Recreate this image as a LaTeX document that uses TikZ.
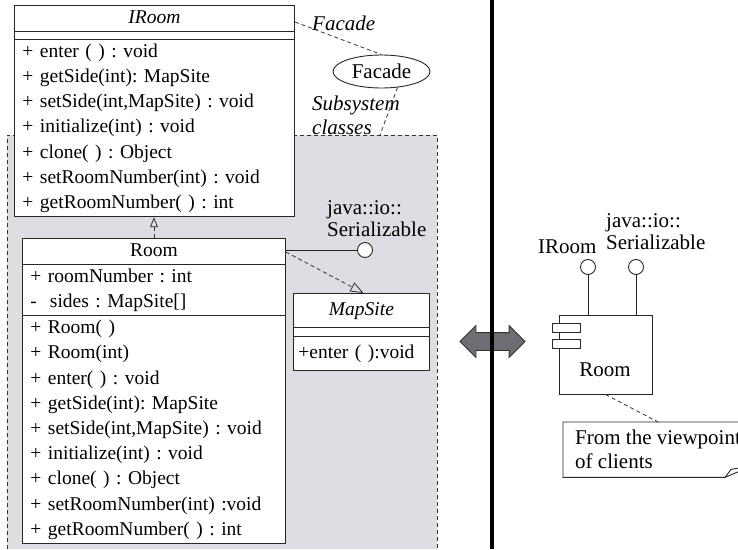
\documentclass[tikz,border=0pt]{standalone}
\usepackage{fontspec}
\setmainfont{Liberation Serif}
\usetikzlibrary{arrows.meta,shapes.multipart,shapes.geometric,shapes.arrows}
\definecolor{subsysgray}{RGB}{221,221,227}
\definecolor{arrowgray}{RGB}{108,110,116}
\newcommand{\linestrut}{\rule[-7.8pt]{0pt}{25.2pt}}
\newcommand{\midtitle}[1]{\hspace*{\fill}#1\hspace*{\fill}}
\frenchspacing

\begin{document}
\begin{tikzpicture}[x=1pt, y=-1pt, font=\fontsize{21}{25.2}\selectfont,
    umlclass/.style = {draw=black!85, line width=0.9pt, fill=white, rectangle split, rectangle split parts=3,
        align=left, inner xsep=8pt, inner ysep=0pt, anchor=north west, font=\fontsize{19.5}{25.2}\selectfont},
    lbl/.style = {inner sep=0pt, align=left, font=\fontsize{21}{22}\selectfont},
    lolli/.style = {draw=black!85, line width=0.9pt, fill=white, circle, inner sep=0pt, minimum size=15pt},
    dashline/.style = {dash pattern=on 4pt off 3pt, line width=0.8pt, draw=black!80},
    realize/.style = {dashline, -{Triangle[open, length=13pt, width=10pt]}}]

  \useasboundingbox (0,0) rectangle (738,549);
  \clip (0,0) rectangle (738,549);

  % subsystem area
  \fill[subsysgray] (7,135) rectangle (437,549);
  \draw[dashline] (7,549) -- (7,135) -- (437,135) -- (437,549);

  \node[umlclass, text width=264pt] (iroom) at (14,5)
    {\midtitle{\textit{IRoom}}\linestrut
     \nodepart{second}\rule{0pt}{7pt}
     \nodepart{third}+ enter ( ) : void\linestrut\\
     + getSide(int): MapSite\linestrut\\
     \mbox{+ setSide(int,MapSite) : void}\linestrut\\
     + initialize(int) : void\linestrut\\
     + clone( ) : Object\linestrut\\
     + setRoomNumber(int) : void\linestrut\\
     + getRoomNumber( ) : int\linestrut};

  \node[umlclass, text width=247pt] (room) at (22,238)
    {\midtitle{Room}\linestrut
     \nodepart{second}+ roomNumber : int\linestrut\\
     -\ \ sides : MapSite[]\linestrut
     \nodepart{third}+ Room( )\linestrut\\
     + Room(int)\linestrut\\
     + enter( ) : void\linestrut\\
     + getSide(int): MapSite\linestrut\\
     \mbox{+ setSide(int,MapSite) : void}\linestrut\\
     + initialize(int) : void\linestrut\\
     + clone( ) : Object\linestrut\\
     \mbox{+ setRoomNumber(int) :void}\linestrut\\
     + getRoomNumber( ) : int\linestrut};

  \node[umlclass, text width=126pt, inner xsep=5pt, inner ysep=4pt] (mapsite) at (293,293)
    {\midtitle{\textit{MapSite}}\linestrut
     \nodepart{second}
     \nodepart{third}\mbox{+enter ( ):void}\linestrut};

  \draw[realize, -{Triangle[open, length=10pt, width=8pt]}] (room.north) -- (room.north |- iroom.south);
  \draw[realize] ([yshift=-14pt]room.north east) -- ([xshift=2pt]mapsite.north);

  \node[lolli] (ser) at (365,250) {};
  \draw[line width=0.9pt, draw=black!85] ([yshift=-12pt]room.north east) -- (ser);
  \node[lbl, anchor=west] (serlbl) at (327,219) {java::io::\\Serializable};

  % facade
  \node[lbl, anchor=west] (facadelbl) at (312,23) {\textit{Facade}};
  \node[draw=black!85, line width=0.9pt, fill=white, ellipse, inner sep=0pt,
        minimum width=97pt, minimum height=33pt] (facade) at (381.5,71.5) {Facade};
  \node[lbl, anchor=west, font=\fontsize{21}{24}\selectfont\itshape] (subsyslbl) at (312,115) {Subsystem\\classes};
  \coordinate (subtop) at (380,135);
  \draw[dashline] ([yshift=-17pt]iroom.north east) -- (facade.north);
  \draw[dashline] (facade.-45) -- (subtop);

  % divider and arrow
  \node[double arrow, draw=black!80, fill=arrowgray, line width=0.8pt, inner sep=0pt,
        minimum height=65pt, double arrow head extend=7pt] (swap) at (492.5,341.5) {\rule{0pt}{17pt}};
  \coordinate (divtop) at (492,0);
  \coordinate (divbot) at (492,549);
  \draw[line width=4pt] (divtop) -- (divbot);

  % component view
  \node[draw=black!85, line width=0.9pt, minimum width=93pt, minimum height=79pt, inner sep=0pt] (comp) at (605.5,354.5) {};
  \node[draw=black!85, line width=0.9pt, fill=white, minimum width=28pt, minimum height=9pt, inner sep=0pt] (port1) at (566,327.5) {};
  \node[draw=black!85, line width=0.9pt, fill=white, minimum width=28pt, minimum height=9pt, inner sep=0pt] (port2) at (566,344) {};
  \node[inner sep=0pt] (complbl) at (605,370) {Room};
  \node[lolli] (iroomif) at (588,267) {};
  \node[lolli] (serif) at (636,267) {};
  \draw[line width=0.9pt, draw=black!85] (iroomif) -- (iroomif |- comp.north);
  \draw[line width=0.9pt, draw=black!85] (serif) -- (serif |- comp.north);
  \node[lbl, anchor=west] (iroomlbl) at (538,247) {IRoom};
  \node[lbl, anchor=west] (serlbl2) at (606,231.5) {java::io::\\Serializable};

  \node[anchor=north west, minimum height=55pt, inner xsep=12pt, inner ysep=0pt, align=left,
        font=\fontsize{21}{24}\selectfont] (note) at (563,422) {From the viewpoint\\of clients};
  \draw[line width=0.9pt, draw=black!85] (note.north west) -- (note.north east) -- ([yshift=12pt]note.south east)
    -- ([xshift=-28pt]note.south east) -- (note.south west) -- cycle;
  \draw[line width=0.9pt, draw=black!85] ([xshift=-28pt]note.south east) -- ([xshift=-22pt,yshift=8pt]note.south east)
    -- ([yshift=12pt]note.south east);
  \draw[dashline] (comp.south) -- (note.north);
\end{tikzpicture}
\end{document}
